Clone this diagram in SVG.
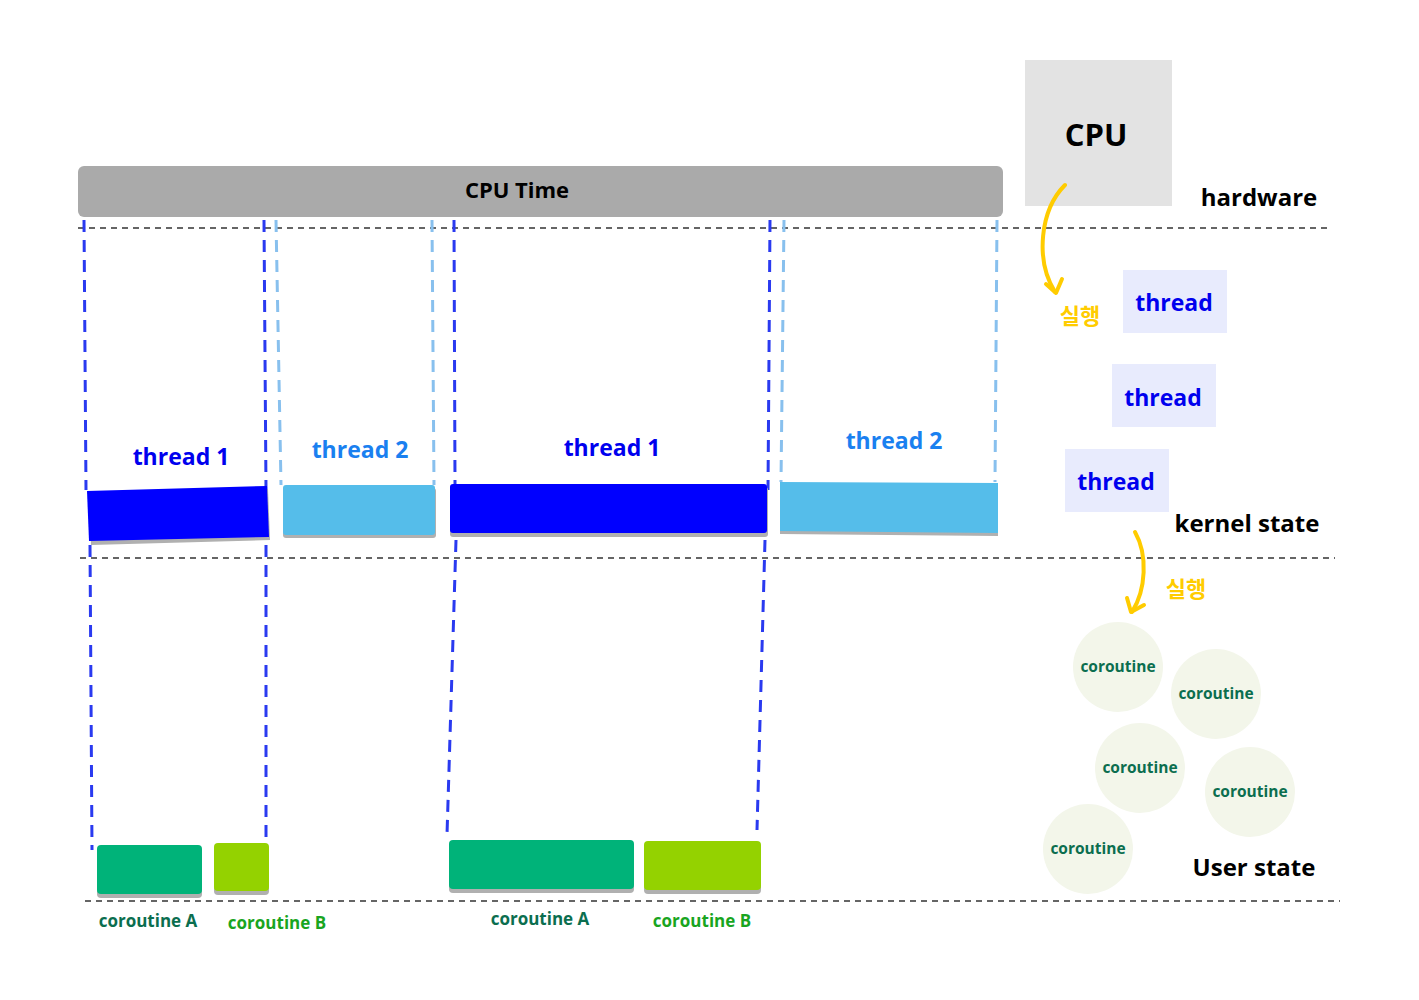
<svg xmlns="http://www.w3.org/2000/svg" width="1419" height="1000" viewBox="0 0 1419 1000">
<defs>
<style>
text{font-family:"Open Sans","Noto Sans CJK KR",sans-serif;font-weight:bold;text-anchor:middle;dominant-baseline:central}
.sep{stroke:#333;stroke-width:1.5;stroke-dasharray:6 5;fill:none}
.dk{stroke:#2a3af0;stroke-width:3;stroke-dasharray:12 8;fill:none}
.lt{stroke:#88c0ee;stroke-width:3;stroke-dasharray:12 8;fill:none}
.tbox{fill:#e8ebfd}
.tt{fill:#0000ee;font-size:23px}
.circ{fill:#f3f6ea}
.ct{fill:#0b6e4f;font-size:15.5px}
.shadow{fill:#b0b0b0}
.lab{font-size:24px;fill:#000}
.yel{stroke:#ffcc00;stroke-width:4;fill:none;stroke-linecap:round;stroke-linejoin:round}
.yt{fill:#ffcc00;font-size:22px}
</style>
</defs>
<rect width="1419" height="1000" fill="#fff"/>

<g id="separators">
<line class="sep" x1="78" y1="228" x2="1330" y2="228"/>
<line class="sep" x1="80" y1="558" x2="1335" y2="558"/>
<line class="sep" x1="85" y1="901" x2="1340" y2="901"/>
</g>

<g id="cpu-time">
<rect x="78" y="166" width="925" height="51" rx="6" fill="#aaaaaa"/>
<text x="517" y="189" font-size="22" fill="#000">CPU Time</text>
</g>

<g id="connectors">
<path class="dk" d="M84 220 L86 490"/>
<path class="dk" d="M90 545 L92 850"/>
<path class="dk" d="M264 220 L266 490"/>
<path class="dk" d="M266 545 L266 842"/>
<path class="lt" d="M276 220 L281 485"/>
<path class="lt" d="M432 220 L434 485"/>
<path class="dk" d="M454 220 L455 485"/>
<path class="dk" d="M456 540 L447 835"/>
<path class="dk" d="M770 220 L768 490"/>
<path class="dk" d="M765 540 L757 830"/>
<path class="lt" d="M784 220 L781 482"/>
<path class="lt" d="M997 220 L995 482"/>
</g>

<g id="thread-bars">
<path class="shadow" d="M89 494 L268 489 L270 540 L91 545 Z"/>
<path d="M87 491 L267 486 L269 537 L89 541 Z" fill="#0000ff"/>
<rect class="shadow" x="283" y="488" width="153" height="50" rx="3"/>
<rect x="283" y="485" width="152" height="50" rx="3" fill="#55bdea"/>
<rect class="shadow" x="450" y="487" width="318" height="50" rx="3"/>
<rect x="450" y="484" width="317" height="49" rx="3" fill="#0000ff"/>
<path class="shadow" d="M780 485 L998 486 L998 536 L780 534 Z"/>
<path d="M780 482 L998 483 L998 533 L780 531 Z" fill="#55bdea"/>
<text x="181" y="456" font-size="23" fill="#0000ee">thread 1</text>
<text x="360" y="449" font-size="23" fill="#1a80f0">thread 2</text>
<text x="612" y="447" font-size="23" fill="#0000ee">thread 1</text>
<text x="894" y="440" font-size="23" fill="#1a80f0">thread 2</text>
</g>

<g id="coroutine-bars">
<rect class="shadow" x="97" y="848" width="105" height="50" rx="4"/>
<rect x="97" y="845" width="105" height="49" rx="4" fill="#00b379"/>
<rect class="shadow" x="214" y="846" width="55" height="49" rx="4"/>
<rect x="214" y="843" width="55" height="48" rx="4" fill="#94d200"/>
<rect class="shadow" x="449" y="843" width="185" height="50" rx="4"/>
<rect x="449" y="840" width="185" height="49" rx="4" fill="#00b379"/>
<rect class="shadow" x="644" y="844" width="117" height="50" rx="4"/>
<rect x="644" y="841" width="117" height="49" rx="4" fill="#94d200"/>
<text x="148" y="920" font-size="17" fill="#0b6e4f">coroutine A</text>
<text x="277" y="922" font-size="17" fill="#19a51f">coroutine B</text>
<text x="540" y="918" font-size="17" fill="#0b6e4f">coroutine A</text>
<text x="702" y="920" font-size="17" fill="#19a51f">coroutine B</text>
</g>

<g id="cpu">
<rect x="1025" y="60" width="147" height="146" fill="#e3e3e3"/>
<text x="1096" y="134" font-size="31" fill="#000">CPU</text>
</g>
<g id="hardware-label"><text class="lab" x="1259" y="196">hardware</text></g>
<g id="thread-a"><rect class="tbox" x="1123" y="270" width="104" height="63"/><text class="tt" x="1174" y="302">thread</text></g>
<g id="thread-b"><rect class="tbox" x="1112" y="364" width="104" height="63"/><text class="tt" x="1163" y="397">thread</text></g>
<g id="thread-c"><rect class="tbox" x="1065" y="449" width="104" height="63"/><text class="tt" x="1116" y="481">thread</text></g>
<g id="kernel-label"><text class="lab" x="1247" y="522">kernel state</text></g>
<g id="user-label"><text class="lab" x="1254" y="866">User state</text></g>
<g id="run1"><text class="yt" x="1080" y="315">실행</text></g>
<g id="run2"><text class="yt" x="1186" y="588">실행</text></g>
<g id="co1"><circle class="circ" cx="1118" cy="667" r="45"/><text class="ct" x="1118" y="666">coroutine</text></g>
<g id="co2"><circle class="circ" cx="1216" cy="694" r="45"/><text class="ct" x="1216" y="693">coroutine</text></g>
<g id="co3"><circle class="circ" cx="1140" cy="768" r="45"/><text class="ct" x="1140" y="767">coroutine</text></g>
<g id="co4"><circle class="circ" cx="1250" cy="792" r="45"/><text class="ct" x="1250" y="791">coroutine</text></g>
<g id="co5"><circle class="circ" cx="1088" cy="849" r="45"/><text class="ct" x="1088" y="848">coroutine</text></g>

<g id="run-arrows">
<path class="yel" d="M1065 185 C1040 210 1035 260 1055 292"/>
<path class="yel" d="M1046 284 L1056 293 L1062 279"/>
<path class="yel" d="M1135 532 C1148 555 1146 590 1132 612"/>
<path class="yel" d="M1127 598 L1131 612 L1144 605"/>
</g>
</svg>
